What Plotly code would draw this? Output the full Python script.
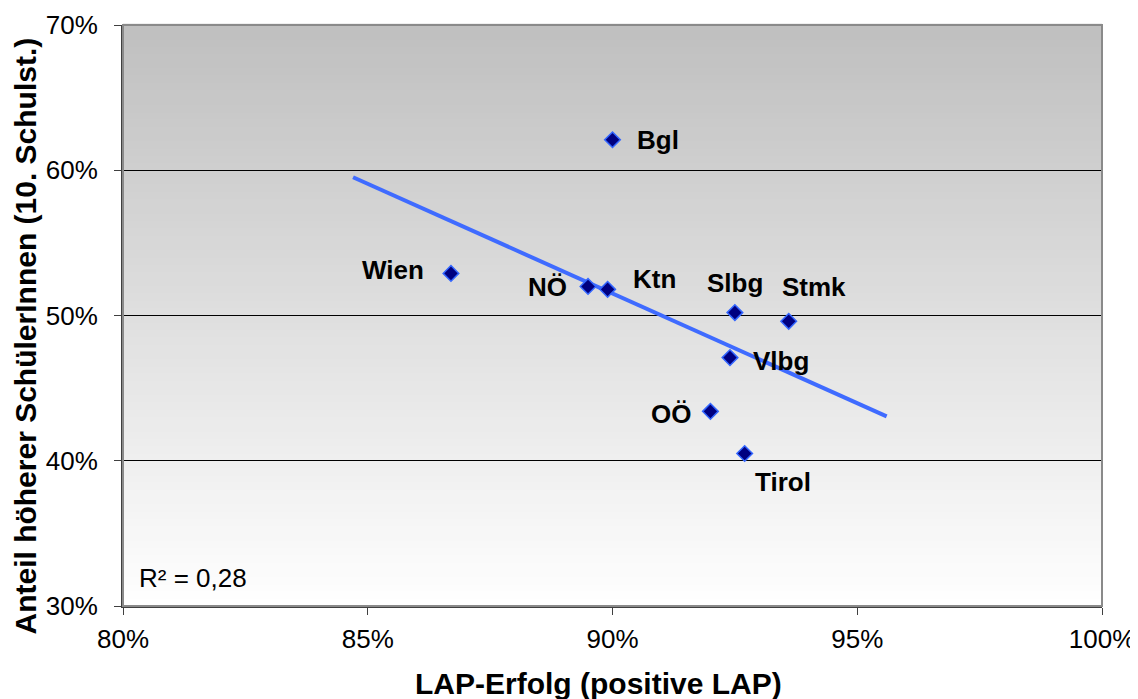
import numpy as np
import plotly.graph_objects as go

# Data (fractions)
regions = ["Bgl", "Wien", "NÖ", "Ktn", "Slbg", "Stmk", "Vlbg", "OÖ", "Tirol"]
lap_success = [0.900, 0.867, 0.895, 0.899, 0.925, 0.936, 0.924, 0.920, 0.927]
share_higher = [0.621, 0.529, 0.520, 0.518, 0.502, 0.496, 0.471, 0.434, 0.405]
trend_x_span = [0.847, 0.956]
x_ticks = [0.80, 0.85, 0.90, 0.95, 1.00]
x_tick_labels = ["80%", "85%", "90%", "95%", "100%"]
y_ticks = [0.30, 0.40, 0.50, 0.60, 0.70]
y_tick_labels = ["30%", "40%", "50%", "60%", "70%"]
x_title = "LAP-Erfolg (positive LAP)"
y_title = "Anteil höherer SchülerInnen (10. Schulst.)"

# label offsets (pixels) : (xshift, yshift, xanchor)
label_pos = {
    "Bgl": (22, 0, "left"),
    "Wien": (-25, 3, "right"),
    "NÖ": (-19, -1, "right"),
    "Ktn": (23, 10, "left"),
    "Slbg": (0, 30, "center"),
    "Stmk": (25, 34, "center"),
    "Vlbg": (21, -3, "left"),
    "OÖ": (-17, -3, "right"),
    "Tirol": (8, -29, "left"),
}

slope, intercept = np.polyfit(lap_success, share_higher, 1)
pred = slope * np.array(lap_success) + intercept
ss_res = np.sum((np.array(share_higher) - pred) ** 2)
ss_tot = np.sum((np.array(share_higher) - np.mean(share_higher)) ** 2)
r2 = 1 - ss_res / ss_tot
tx = np.array(trend_x_span)
ty = slope * tx + intercept

fig = go.Figure()
fig.add_trace(go.Scatter(x=tx, y=ty, mode="lines",
                         line=dict(color="#3F6BFF", width=4),
                         hoverinfo="skip", showlegend=False))
fig.add_trace(go.Scatter(x=lap_success, y=share_higher, mode="markers",
                         marker=dict(symbol="diamond", size=12, color="#000080",
                                     line=dict(color="#3366FF", width=1.5)),
                         text=regions, showlegend=False))

font_family = "Liberation Sans, Arial, sans-serif"
for r, x, y in zip(regions, lap_success, share_higher):
    xs, ys, xa = label_pos[r]
    fig.add_annotation(x=x, y=y, text=f"<b>{r}</b>", showarrow=False,
                       xshift=xs, yshift=ys, xanchor=xa, yanchor="middle",
                       font=dict(size=26, color="black", family=font_family))

fig.add_annotation(xref="paper", yref="paper", x=0.014, y=0.048,
                   text=f"R² = {r2:.2f}".replace(".", ","), showarrow=False,
                   xanchor="left", yanchor="middle",
                   font=dict(size=26, color="black", family=font_family))

# axis titles
fig.add_annotation(xref="paper", yref="paper", x=0.4857, y=-0.1335,
                   text=f"<b>{x_title}</b>", showarrow=False,
                   xanchor="center", yanchor="middle",
                   font=dict(size=30, color="black", family=font_family))
fig.add_annotation(xref="paper", yref="paper", x=-0.1006, y=0.4647,
                   text=f"<b>{y_title}</b>", showarrow=False, textangle=-90,
                   xanchor="center", yanchor="middle",
                   font=dict(size=30, color="black", family=font_family))

# gradient background
shapes = []
n = 80
top = np.array([192, 192, 192])
bot = np.array([255, 255, 255])
for i in range(n):
    t = i / (n - 1)
    c = (bot + (top - bot) * t).astype(int)
    shapes.append(dict(type="rect", xref="x domain", yref="y domain",
                       x0=0, x1=1, y0=i / n, y1=(i + 1) / n + 0.002,
                       fillcolor=f"rgb({c[0]},{c[1]},{c[2]})",
                       line=dict(width=0), layer="below"))
shapes.append(dict(type="rect", xref="x domain", yref="y domain",
                   x0=0, x1=1, y0=0, y1=1,
                   line=dict(color="#8a8a8a", width=2), layer="above"))

fig.update_layout(
    width=1130, height=691,
    margin=dict(l=115, r=36, t=17, b=93, autoexpand=False),
    paper_bgcolor="white", plot_bgcolor="white",
    shapes=shapes,
    font=dict(family=font_family, size=26, color="black"),
    xaxis=dict(range=[0.80, 1.00], tickvals=x_ticks, ticktext=x_tick_labels,
               showgrid=False, zeroline=False, showline=True, automargin=False,
               linecolor="#404040", linewidth=2, ticks="outside",
               ticklen=7, tickcolor="#404040",
               tickfont=dict(size=26), ticklabelstandoff=2),
    yaxis=dict(range=[0.30, 0.70], tickvals=y_ticks, ticktext=y_tick_labels,
               showgrid=True, gridcolor="black", gridwidth=1, zeroline=False,
               showline=True, linecolor="#404040", linewidth=2, automargin=False,
               ticks="outside", ticklen=7, tickcolor="#404040",
               tickfont=dict(size=26), ticklabelstandoff=11),
)

fig.write_html("out.html")
